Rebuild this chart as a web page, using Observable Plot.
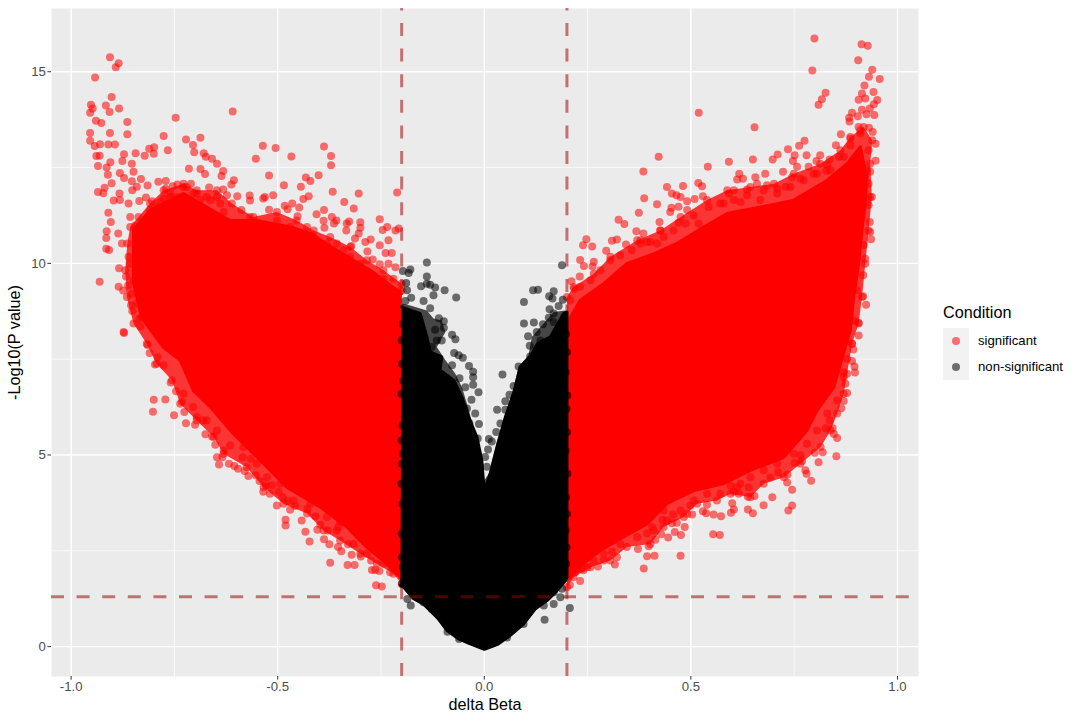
<!DOCTYPE html>
<html><head><meta charset="utf-8">
<script src="https://cdn.jsdelivr.net/npm/d3@7"></script>
<script src="https://cdn.jsdelivr.net/npm/@observablehq/plot@0.6"></script>
<style>
html,body{margin:0;padding:0;background:#fff;font-family:"Liberation Sans",Arial,sans-serif}
#wrap{position:relative;width:1080px;height:723px;overflow:hidden}
#wrap svg{position:absolute;left:0;top:0}
.lg{position:absolute;white-space:nowrap}
</style></head><body><div id="wrap"></div>
<script>
const xMajor=[-1,-0.5,0,0.5,1];
const xMinor=[-0.75,-0.25,0.25,0.75];
const yMajor=[0,5,10,15];
const yMinor=[2.5,7.5,12.5];
const cutBeta=[-0.2,0.2];
const cutP=[1.3];
// Densely overplotted areas, outlines [delta beta, -log10 p]
const redLeftMass=[[-0.2,1.77],[-0.236,2.16],[-0.284,2.59],[-0.333,3.12],[-0.397,3.64],[-0.478,4.16],[-0.542,4.86],[-0.607,5.55],[-0.663,6.25],[-0.704,6.68],[-0.736,7.47],[-0.776,7.8],[-0.79,8.0],[-0.83,8.6],[-0.849,9.5],[-0.849,10.86],[-0.809,11.39],[-0.728,11.82],[-0.672,11.47],[-0.615,11.12],[-0.551,11.12],[-0.47,10.95],[-0.421,10.78],[-0.357,10.34],[-0.276,9.82],[-0.2,9.21]];
const redRightMass=[[0.2,1.73],[0.24,2.16],[0.281,2.51],[0.337,2.86],[0.394,3.2],[0.442,3.73],[0.507,4.07],[0.579,4.25],[0.644,4.6],[0.725,4.94],[0.781,5.64],[0.805,6.16],[0.846,6.77],[0.874,7.82],[0.886,8.25],[0.894,9.12],[0.906,9.99],[0.914,10.86],[0.922,11.56],[0.926,12.26],[0.91,13.04],[0.878,12.6],[0.83,12.17],[0.749,11.65],[0.668,11.47],[0.588,11.3],[0.531,10.95],[0.466,10.52],[0.41,10.25],[0.345,9.99],[0.289,9.47],[0.232,9.04],[0.2,8.43]];
const blackMass=[[-0.203,1.6],[-0.195,1.55],[-0.171,1.25],[-0.147,1.11],[-0.131,0.94],[-0.111,0.72],[-0.09,0.42],[-0.062,0.2],[-0.034,0.07],[0,-0.07],[0.031,0.05],[0.063,0.29],[0.095,0.59],[0.123,0.98],[0.152,1.2],[0.176,1.46],[0.196,1.72],[0.2,1.8],[0.2,8.73],[0.192,8.69],[0.16,8.08],[0.128,7.9],[0.111,7.56],[0.087,7.3],[0.071,6.6],[0.051,5.99],[0.031,5.21],[0.014,4.51],[0,4.05],[-0.006,4.86],[-0.018,5.47],[-0.038,5.99],[-0.054,6.51],[-0.074,6.95],[-0.107,7.21],[-0.103,7.56],[-0.131,7.69],[-0.139,8.08],[-0.155,8.69],[-0.2,8.86]];
// Outer, thinner band around the areas
const redLeftBand=[[-.2,1.64],[-.22,1.9],[-.26,2.16],[-.3,2.42],[-.349,2.77],[-.389,3.03],[-.429,3.47],[-.486,3.73],[-.534,4.16],[-.575,4.68],[-.631,5.03],[-.655,5.47],[-.696,5.9],[-.736,6.34],[-.756,6.95],[-.793,7.38],[-.817,7.9],[-.849,8.43],[-.865,9.12],[-.869,9.82],[-.864,10.52],[-.857,10.95],[-.837,11.21],[-.809,11.56],[-.776,11.91],[-.728,12.08],[-.696,11.91],[-.647,11.91],[-.611,11.56],[-.559,11.21],[-.502,11.34],[-.454,11.12],[-.413,10.86],[-.373,10.69],[-.324,10.43],[-.284,10.08],[-.244,9.82],[-.2,9.47]];
const redRightBand=[[.2,1.55],[.216,1.81],[.257,2.07],[.305,2.25],[.345,2.6],[.402,2.68],[.434,3.12],[.483,3.38],[.515,3.73],[.563,3.81],[.596,3.99],[.644,3.9],[.676,4.25],[.725,4.42],[.765,4.77],[.814,5.21],[.838,5.64],[.854,6.08],[.87,6.6],[.878,7.12],[.89,7.9],[.906,8.43],[.914,9.12],[.922,9.99],[.93,10.86],[.938,11.73],[.934,12.6],[.939,13.21],[.918,13.56],[.886,13.3],[.862,12.95],[.813,12.6],[.749,12.34],[.701,12.08],[.644,11.99],[.588,11.91],[.539,11.65],[.475,11.21],[.426,10.86],[.37,10.6],[.305,10.17],[.265,9.73],[.216,9.38],[.2,9.12]];
const blackBand=[[-.2,4],[-.2,8.95],[-.179,8.9],[-.139,8.77],[-.123,8.56],[-.103,8.51],[-.094,8.21],[-.115,7.82],[-.094,7.47],[-.07,7.12],[-.054,6.77],[-.042,6.34],[-.026,5.73],[-.01,5.03],[0,4.34],[.011,4.51],[.031,5.38],[.051,6.08],[.071,6.77],[.083,7.3],[.107,7.6],[.115,8.08],[.136,8.34],[.168,8.73],[.196,8.77],[.2,8.73],[.2,4]];
// Individually visible points
const redTopLeft=[[-.906,15.38],[-.885,15.22],[-.892,15.12],[-.942,14.85],[-.902,14.34],[-.952,14.14],[-.948,14.04],[-.954,13.93],[-.916,14.12],[-.907,13.95],[-.884,14.04],[-.864,13.69],[-.94,13.72],[-.927,13.66],[-.954,13.4],[-.954,13.2],[-.906,13.4],[-.864,13.37],[-.943,13.06],[-.93,13.11],[-.91,13.1],[-.894,13.1],[-.939,12.8],[-.931,12.81],[-.872,12.85],[-.844,12.87],[-.822,12.81],[-.811,12.99],[-.799,13.03],[-.8,12.86],[-.766,12.95],[-.776,13.32],[-.747,13.8],[-.609,13.96],[-.722,13.23],[-.705,13.09],[-.702,12.9],[-.687,13.28],[-.679,12.87],[-.674,12.78],[-.659,12.73],[-.647,12.6],[-.632,12.41],[-.636,12.28],[-.606,12.17],[-.612,12.06],[-.715,12.47],[-.687,12.46],[-.676,12.33],[-.536,13.07],[-.505,13.01],[-.553,12.73],[-.467,12.79],[-.521,12.29],[-.388,13.05],[-.371,12.8],[-.371,12.56],[-.401,12.3],[-.432,12.24],[-.421,12.15],[-.444,12],[-.485,12.04],[-.367,11.87],[-.304,11.82],[-.425,11.75],[-.438,11.68],[-.511,11.78],[-.531,11.73],[-.535,11.69],[-.568,11.77],[-.567,11.64],[-.598,11.75],[-.339,11.6],[-.316,11.43],[-.388,11.39],[-.406,11.28],[-.211,11.85],[-.253,11.15],[-.235,10.95],[-.246,10.87],[-.207,10.91],[-.215,10.86],[-.333,11.04],[-.327,11.09],[-.3,11.07],[-.3,10.93],[-.334,10.86],[-.369,11.21],[-.358,11.12],[-.364,11.04],[-.389,11.11],[-.387,10.93],[-.935,12.54],[-.914,12.5],[-.911,12.31],[-.905,12.64],[-.876,12.67],[-.853,12.6],[-.882,12.36],[-.872,12.23],[-.849,12.39],[-.853,12.14],[-.831,12.2],[-.841,12],[-.852,11.91],[-.902,12.09],[-.919,11.97],[-.935,11.86],[-.922,11.83],[-.883,11.82],[-.897,11.64],[-.882,11.65],[-.91,11.32],[-.904,11.08],[-.914,10.84],[-.915,10.66],[-.915,10.38],[-.908,10.35],[-.886,10.78],[-.931,9.52],[-.884,9.87],[-.885,9.39],[-.874,9.29],[-.867,9.66],[-.862,9.42],[-.855,8.91],[-.852,8.76],[-.835,8.55],[-.832,8.36],[-.873,8.21],[-.835,11.63],[-.819,11.72],[-.804,11.62],[-.815,12.03],[-.789,12.13],[-.771,12.15],[-.771,11.95],[-.743,12.06],[-.754,12.01],[-.71,12.08],[-.666,11.98],[-.632,11.93],[-.588,11.39],[-.521,11.4],[-.483,11.5],[-.465,11.56],[-.476,11.41],[-.448,11.46],[-.452,11.23],[-.232,10.6],[-.239,10.27],[-.224,10.27],[-.253,10.47],[-.232,9.99],[-.215,9.9],[-.27,10.1],[-.253,9.98],[-.283,10.31],[-.275,10.62],[-.288,10.56],[-.313,10.65],[-.304,10.78],[-.322,10.45],[-.728,11.99],[-.696,11.82],[-.647,11.73],[-.623,11.78],[-.672,11.73],[-.76,11.73],[-.784,11.6],[-.809,11.39],
[-.861,11.56],[-.857,11.21],[-.845,10.99],[-.829,11.08],[-.817,11.17],[-.793,11.47],[-.776,11.69],[-.76,11.82],[-.744,11.73],[-.72,11.99],[-.704,11.82],[-.688,11.65],[-.663,11.65],[-.639,11.56],[-.631,11.34],[-.663,11.17],[-.607,10.95],[-.567,11.21],[-.534,10.95],[-.502,11.12],[-.47,10.95],[-.429,10.95],[-.413,10.69],[-.381,10.52],[-.357,10.52],[-.341,10.34],[-.325,10.17],[-.3,9.99],[-.276,9.73],[-.244,9.6],[-.22,9.6],[-.2,9.3],[-.877,10.52],[-.861,10.17],[-.857,9.99],[-.849,9.56],[-.853,9.21],[-.841,8.95],[-.829,8.6]];
const redBottomLeft=[[-.872,8.18],[-.815,7.87],[-.81,7.66],[-.791,7.55],[-.797,7.36],[-.776,7.34],[-.759,6.89],[-.746,6.66],[-.8,6.44],[-.772,6.45],[-.802,6.13],[-.751,6.04],[-.732,6.38],[-.722,5.83],[-.726,6.12],[-.7,5.79],[-.696,5.99],[-.675,5.54],[-.659,5.48],[-.651,5.27],[-.672,5.9],[-.647,4.94],[-.634,4.94],[-.642,4.75],[-.631,5.12],[-.618,4.77],[-.605,4.71],[-.596,4.64],[-.58,4.58],[-.571,4.45],[-.553,4.47],[-.585,4.94],[-.565,4.9],[-.544,4.32],[-.529,4.21],[-.514,4.21],[-.535,4.04],[-.519,3.99],[-.498,4.04],[-.502,3.68],[-.488,3.9],[-.47,3.57],[-.476,3.79],[-.458,3.67],[-.442,3.29],[-.481,3.31],[-.481,3.16],[-.433,3],[-.423,2.74],[-.404,3.05],[-.397,3.18],[-.409,3.4],[-.428,3.6],[-.379,3.03],[-.388,2.8],[-.375,2.67],[-.354,2.6],[-.346,2.49],[-.33,2.67],[-.321,2.4],[-.299,2.35],[-.373,2.19],[-.331,2.13],[-.314,2.13],[-.274,2.25],[-.272,2],[-.264,2],[-.254,1.97],[-.262,1.6],[-.248,1.57],[-.228,1.94],[-.353,3.12],[-.349,3.25],
[-.728,6.6],[-.704,6.25],[-.68,5.9],[-.647,5.64],[-.615,5.25],[-.583,5.2],[-.551,4.77],[-.526,4.42],[-.494,4.25],[-.462,3.81],[-.421,3.73],[-.381,3.38],[-.357,3.03],[-.317,2.68],[-.284,2.42],[-.244,2.16]];
const redTopRight=[[.799,15.87],[.913,15.72],[.928,15.68],[.905,15.3],[.794,15.03],[.939,15.05],[.931,14.87],[.957,14.81],[.92,14.64],[.914,14.43],[.942,14.47],[.826,14.45],[.817,14.28],[.809,14.14],[.906,14.27],[.922,14.3],[.951,14.26],[.943,14.15],[.933,14.04],[.914,14.01],[.89,13.93],[.883,13.8],[.904,13.84],[.925,13.89],[.944,13.87],[.519,13.93],[.654,13.55],[.884,13.7],[.906,13.56],[.931,13.54],[.94,13.43],[.863,13.37],[.886,13.26],[.91,13.39],[.947,13.12],[.947,12.68],[.851,13.08],[.775,13.2],[.762,13.07],[.735,12.98],[.71,12.84],[.698,12.71],[.65,12.71],[.592,12.65],[.541,12.52],[.422,12.78],[.385,12.4],[.78,12.82],[.751,12.82],[.747,12.67],[.813,12.82],[.836,12.71],[.859,12.78],[.804,12.67],[.785,12.52],[.83,12.56],[.757,12.52],[.723,12.39],[.828,12.41],[.68,12.34],[.656,12.25],[.617,12.34],[.626,12.21],[.612,12.19],[.518,12.1],[.527,12.01],[.481,12.02],[.442,11.99],[.454,11.82],[.465,11.78],[.475,11.73],[.491,11.62],[.509,11.68],[.529,11.75],[.387,11.7],[.418,11.54],[.453,11.45],[.47,11.48],[.45,11.34],[.374,11.32],[.491,11.39],[.325,11.14],[.339,11.03],[.424,11.08],[.368,10.84],[.385,10.78],[.247,10.63],[.239,10.47],[.261,10.44],[.295,10.33],[.309,10.59],[.321,10.62],[.343,10.49],[.232,10.09],[.241,9.93],[.265,10.04],[.262,9.92],[.211,9.53],[.218,9.34],[.231,9.66],[.47,11.06],[.507,11.25],[.426,10.86],[.378,10.6],[.394,10.56],[.418,10.52],[.592,11.82],[.636,11.93],[.604,11.91],[.66,12.08],[.684,12.04],[.709,11.95],[.729,11.99],[.745,12.25],[.765,12.21],[.797,12.34],[.579,11.56],[.62,11.6],[.668,11.65],[.934,12.39],[.93,12.08],[.934,11.73],[.93,11.52],[.933,11.08],[.934,10.82],[.936,10.63],[.918,10.47],[.922,10.12],[.917,9.69],[.902,9.3],[.917,9.14],[.924,8.92],[.906,8.45],[.894,8.51],
[.208,9.04],[.232,9.39],[.257,9.56],[.281,9.82],[.305,10.08],[.329,10.21],[.357,10.34],[.378,10.52],[.402,10.56],[.434,10.69],[.458,10.86],[.487,11.04],[.519,11.04],[.543,11.47],[.571,11.56],[.604,11.65],[.636,11.78],[.676,11.91],[.709,11.82],[.741,11.99],[.773,12.17],[.805,12.34],[.838,12.43],[.87,12.78],[.886,13.08],[.91,13.47],[.93,12.95],[.926,12.43]];
const redBottomRight=[[.906,8.12],[.89,7.9],[.893,7.75],[.878,7.51],[.89,7.45],[.896,7.31],[.897,7.15],[.87,7.16],[.874,6.86],[.878,6.62],[.87,6.41],[.864,6.22],[.854,5.44],[.843,5.7],[.846,5.55],[.836,5.9],[.826,5.7],[.852,4.97],[.819,5.07],[.8,5.06],[.809,4.81],[.777,4.6],[.78,4.51],[.791,4.33],[.765,4.99],[.769,4.84],[.751,4.79],[.734,4.49],[.711,4.55],[.692,4.41],[.733,4.28],[.745,4.09],[.697,3.9],[.745,3.68],[.736,3.55],[.676,3.69],[.65,3.48],[.638,3.58],[.654,3.93],[.638,3.91],[.64,4.16],[.62,4.25],[.616,3.99],[.604,4.04],[.596,4.2],[.6,3.74],[.604,3.58],[.597,3.49],[.573,3.4],[.555,3.45],[.539,3.7],[.537,3.48],[.529,3.53],[.57,2.91],[.554,2.93],[.475,2.37],[.503,3.45],[.491,3.46],[.499,3.68],[.485,3.12],[.476,2.91],[.461,2.99],[.445,2.85],[.428,2.93],[.466,3.23],[.454,3.22],[.457,3.45],[.431,3.31],[.434,3.55],[.414,2.79],[.398,2.62],[.406,3.12],[.394,2.96],[.372,2.55],[.412,2.37],[.394,2.36],[.386,2.04],[.316,2.14],[.321,2.33],[.289,2.25],[.275,2.09],[.309,2.47],[.313,2.77],[.249,2.07],[.232,1.71],[.207,1.61],[.236,2.03],[.22,1.94],
[.87,7.03],[.854,6.42],[.83,6.08],[.805,5.64],[.781,5.29],[.749,5.03],[.709,4.77],[.676,4.6],[.644,4.42],[.612,4.16],[.571,3.99],[.539,3.99],[.507,3.81],[.475,3.55],[.442,3.29],[.41,3.03],[.37,2.86],[.329,2.68],[.289,2.42],[.265,2.25],[.24,1.99]];
const blackPoints=[[-.139,10.02],[-.179,9.84],[-.197,9.8],[-.183,9.75],[-.189,9.49],[-.187,9.3],[-.177,9.1],[-.191,9.02],[-.139,9.66],[-.153,9.4],[-.139,9.47],[-.131,9.44],[-.119,9.37],[-.096,9.3],[-.123,9.17],[-.068,9.11],[-.147,9.02],[-.131,8.83],[-.11,8.57],[-.098,8.49],[-.098,8.32],[-.119,8.27],[-.078,8.14],[-.07,8.02],[-.103,7.99],[-.115,7.99],[-.127,7.82],[-.073,7.66],[-.062,7.6],[-.052,7.54],[-.037,7.32],[-.078,7.34],[-.027,7.17],[-.027,7.03],[-.06,7],[-.027,6.83],[-.046,6.77],[-.014,6.64],[-.031,6.44],[-.042,6.21],[-.022,6.08],[-.013,5.81],[-.036,5.83],[-.016,5.43],[.044,7.1],[.188,9.95],[.118,9.3],[.13,9.31],[.168,9.27],[.157,9.14],[.165,9.08],[.096,8.99],[.19,9.05],[.18,8.89],[.158,8.8],[.168,8.69],[.156,8.58],[.12,8.46],[.096,8.43],[.142,8.41],[.168,8.47],[.106,8.1],[.127,8.21],[.11,7.85],[.136,7.99],[.111,7.57],[.083,7.31],[.071,6.8],[.061,6.57],[.051,6.4],[.031,6.18],[.051,6.18],[.039,5.82],[.029,5.6],[.011,5.42],[.018,5.35],[.009,5.14],[.002,4.95],[.006,4.69],[-.178,1.07],[-.186,1.24],[-.089,.39],[-.061,.2],[.207,1.01],[.146,.7],[.095,.59],[.168,1.11],[.168,1.42],[.188,1.51],[-.106,.77],[-.127,.98],[-.147,1.16],[.055,.24],[-.199,1.64],[.184,1.29],[.144,1.07]];
const blackEdgeLeft=[[-.197,8.42],[-.2,7.99],[-.199,7.38],[-.196,6.94],[-.201,6.59],[-.198,5.77],[-.2,5.38],[-.197,5.03],[-.199,4.77],[-.201,4.25],[-.198,3.72],[-.2,2.94],[-.199,2.33],[-.197,2.07]];
const blackEdgeRight=[[.198,8.16],[.2,7.68],[.197,7.16],[.201,6.55],[.199,6.2],[.2,5.59],[.197,5.11],[.201,4.51],[.198,3.9],[.2,3.46],[.197,3.03],[.199,2.59],[.198,2.16]];
const legendLabels=["significant","non-significant"];
const redDots=[...redTopLeft,...redBottomLeft,...redTopRight,...redBottomRight,...redLeftBand,...redRightBand];
const blackDots=[...blackPoints,...blackEdgeLeft,...blackEdgeRight];
const px=d=>d[0], py=d=>d[1];
const dotOpts={x:px,y:py,r:4,stroke:"none",fillOpacity:0.55};
const dash={stroke:"#a00000",strokeOpacity:0.52,strokeWidth:3};
const chart=Plot.plot({
  width:1080,height:723,marginLeft:51,marginRight:162,marginTop:8,marginBottom:47,
  style:{background:"transparent",fontFamily:'"Liberation Sans",Arial,sans-serif'},
  x:{domain:[-1.0475,1.0509],label:null,axis:null},
  y:{domain:[-0.78,16.65],label:null,axis:null},
  marks:[
    Plot.frame({fill:"#ebebeb",stroke:null}),
    Plot.ruleX(xMinor,{stroke:"#fff",strokeWidth:0.7}),
    Plot.ruleY(yMinor,{stroke:"#fff",strokeWidth:0.7}),
    Plot.ruleX(xMajor,{stroke:"#fff",strokeWidth:1.4}),
    Plot.ruleY(yMajor,{stroke:"#fff",strokeWidth:1.4}),
    Plot.ruleX(cutBeta,{...dash,strokeDasharray:"13,12.6",strokeDashoffset:10.6}),
    Plot.line(redLeftBand,{x:px,y:py,fill:"#ff0000",fillOpacity:0.78,stroke:"none"}),
    Plot.line(redRightBand,{x:px,y:py,fill:"#ff0000",fillOpacity:0.78,stroke:"none"}),
    Plot.line(redLeftMass,{x:px,y:py,fill:"#ff0000",stroke:"#ff0000",strokeWidth:3}),
    Plot.line(redRightMass,{x:px,y:py,fill:"#ff0000",stroke:"#ff0000",strokeWidth:3}),
    Plot.dot(redDots,{...dotOpts,fill:"#ff0000"}),
    Plot.line(blackBand,{x:px,y:py,fill:"#000",fillOpacity:0.7,stroke:"none"}),
    Plot.line(blackMass,{x:px,y:py,fill:"#000",stroke:"#000",strokeWidth:3}),
    Plot.dot(blackDots,{...dotOpts,fill:"#000"}),
    Plot.ruleY(cutP,{...dash,strokeDasharray:"13,12.6"}),
    Plot.axisX(xMajor,{tickFormat:d=>d.toFixed(1),label:null,tickSize:3.6,tickPadding:2,fontSize:13.2,color:"#4d4d4d",stroke:"#333"}),
    Plot.axisY(yMajor,{tickFormat:d=>String(d),label:null,tickSize:3.6,tickPadding:2,fontSize:13.2,color:"#4d4d4d",stroke:"#333"}),
    Plot.text(["delta Beta"],{frameAnchor:"bottom",dy:33,fontSize:16.2,fill:"#000"}),
    Plot.text(["-Log10(P value)"],{frameAnchor:"left",rotate:-90,dx:-37,fontSize:16.2,textAnchor:"middle",fill:"#000"})
  ]
});
const wrap=document.getElementById("wrap");
wrap.appendChild(chart);
function add(css,text){const e=document.createElement("div");e.className="lg";e.style.cssText=css;if(text)e.textContent=text;wrap.appendChild(e);}
add("left:943px;top:303px;font-size:16.2px;line-height:18px;color:#000","Condition");
add("left:943px;top:328px;width:26px;height:52px;background:#f2f2f2");
["rgba(255,0,0,.55)","rgba(0,0,0,.55)"].forEach((c,i)=>{
  add(`left:952px;top:${337+26*i}px;width:8px;height:8px;border-radius:50%;background:${c}`);
  add(`left:978px;top:${334+26*i}px;font-size:13.2px;line-height:14px;color:#000`,legendLabels[i]);
});
</script></body></html>
